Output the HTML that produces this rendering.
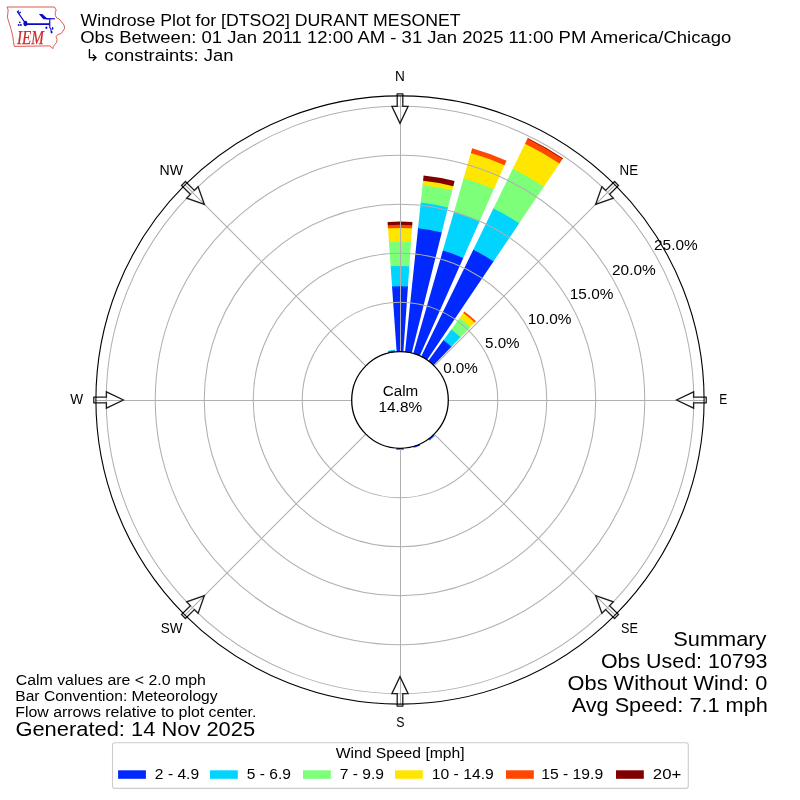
<!DOCTYPE html><html><head><meta charset="utf-8"><title>Windrose Plot</title><style>html,body{margin:0;padding:0;background:#fff;width:800px;height:800px;overflow:hidden}svg{display:block}text{font-family:"Liberation Sans",sans-serif;filter:grayscale(1)}</style></head><body>
<svg width="800" height="800" viewBox="0 0 800 800">
<rect width="800" height="800" fill="#fff"/>
<g id="logo">
<path d="M7,7 L54.4,7 L56.2,10 L55.3,12.4 L55.3,15.4 L56.8,18.1 L59.2,19 L61.6,22 L64,25 L64.6,28 L63.1,31 L61.3,33.4 L58,34.6 L55.9,36.4 L57.1,39.4 L56.5,42.4 L54.7,44.8 L53.2,46.6 L52.9,48.7 L51.1,46.9 L49.6,45.9 L14.3,46.4 L13.5,41.6 L12.7,35.9 L11.1,29.4 L9.1,22.9 L7.4,17.2 L8.2,9.9 Z" fill="none" stroke="#d94848" stroke-width="0.9" stroke-linejoin="round"/>
<g fill="#0a0ac8" stroke="#0a0ac8">
<ellipse cx="25.4" cy="23.5" rx="1.95" ry="2.8" stroke="none"/>
<path d="M26.5,23.3 L48.6,23.3 L49.6,21.4 L49.6,26.4 L48.6,24.9 L26.5,24.9 Z" stroke="none"/>
<path d="M25.0,22.6 L17.9,12.4 L18.6,10.4 M18.6,13.6 L20.8,12.0 M17.9,12.4 L17.2,11.2" stroke-width="1.2" fill="none"/>
<circle cx="19.8" cy="22.3" r="0.85" stroke="none"/><circle cx="18.7" cy="25.0" r="0.95" stroke="none"/><circle cx="20.9" cy="25.0" r="0.95" stroke="none"/>
<path d="M49.8,18.2 L49.8,27.5 L51.0,29.6 L51.4,33.2" stroke-width="1.1" fill="none"/>
<path d="M46.0,18.75 L54.8,18.75" stroke-width="1.2" fill="none"/>
<path d="M38.9,14.0 L42.4,14.0 L46.4,17.8 L49.0,18.4 L49.0,19.3 L43.4,19.3 Z" stroke="none"/>
<ellipse cx="46.4" cy="27.8" rx="1.0" ry="1.2" stroke="none"/>
<ellipse cx="52.6" cy="28.4" rx="0.8" ry="1.3" stroke="none"/>
<ellipse cx="51.7" cy="32.1" rx="0.9" ry="1.2" stroke="none"/>
</g>
<text x="17.0" y="43.6" font-family="Liberation Serif" font-style="italic" font-size="18.2" fill="#d02828" textLength="26.8" lengthAdjust="spacingAndGlyphs" style="font-family:'Liberation Serif',serif;filter:saturate(1.001)" stroke="#d02828" stroke-width="0.25">IEM</text>
</g>
<text x="80.55" y="25.8" font-size="16.67" text-anchor="start" textLength="380.02" lengthAdjust="spacingAndGlyphs" fill="#000">Windrose Plot for [DTSO2] DURANT MESONET</text>
<text x="80.17" y="42.9" font-size="16.67" text-anchor="start" textLength="651.16" lengthAdjust="spacingAndGlyphs" fill="#000">Obs Between: 01 Jan 2011 12:00 AM - 31 Jan 2025 11:00 PM America/Chicago</text>
<path d="M89.45,49.0 L89.45,57.6 L95.6,57.6 M92.8,54.4 L96.0,57.6 L92.8,60.8" fill="none" stroke="#000" stroke-width="1.35"/>
<text x="104.63" y="60.5" font-size="16.67" text-anchor="start" textLength="128.74" lengthAdjust="spacingAndGlyphs" fill="#000">constraints: Jan</text>
<g stroke="none">
<path d="M396.67,352.37 L392.02,285.88 A114.4,114.4 0 0 1 407.98,285.88 L403.33,352.37 A47.75,47.75 0 0 0 396.67,352.37 Z" fill="#0028ff"/>
<path d="M392.07,286.58 L390.6,265.63 A134.7,134.7 0 0 1 409.4,265.63 L407.93,286.58 A113.7,113.7 0 0 0 392.07,286.58 Z" fill="#00d4ff"/>
<path d="M390.65,266.33 L388.91,241.39 A159,159 0 0 1 411.09,241.39 L409.35,266.33 A134,134 0 0 0 390.65,266.33 Z" fill="#7dff7a"/>
<path d="M388.96,242.09 L387.95,227.62 A172.8,172.8 0 0 1 412.05,227.62 L411.04,242.09 A158.3,158.3 0 0 0 388.96,242.09 Z" fill="#ffe600"/>
<path d="M387.99,228.32 L387.73,224.53 A175.9,175.9 0 0 1 412.27,224.53 L412.01,228.32 A172.1,172.1 0 0 0 387.99,228.32 Z" fill="#ff4700"/>
<path d="M387.78,225.23 L387.56,222.03 A178.4,178.4 0 0 1 412.44,222.03 L412.22,225.23 A175.2,175.2 0 0 0 387.78,225.23 Z" fill="#800000"/>
<path d="M404.99,352.51 L418.13,227.55 A173.4,173.4 0 0 1 441.95,231.75 L411.55,353.67 A47.75,47.75 0 0 0 404.99,352.51 Z" fill="#0028ff"/>
<path d="M418.05,228.25 L420.82,201.89 A199.2,199.2 0 0 1 448.19,206.72 L441.78,232.43 A172.7,172.7 0 0 0 418.05,228.25 Z" fill="#00d4ff"/>
<path d="M420.75,202.59 L422.66,184.44 A216.75,216.75 0 0 1 452.44,189.69 L448.02,207.4 A198.5,198.5 0 0 0 420.75,202.59 Z" fill="#7dff7a"/>
<path d="M422.58,185.13 L423.11,180.11 A221.1,221.1 0 0 1 453.49,185.47 L452.27,190.37 A216.05,216.05 0 0 0 422.58,185.13 Z" fill="#ffe600"/>
<path d="M423.04,180.81 L423.59,175.54 A225.7,225.7 0 0 1 454.6,181 L453.32,186.15 A220.4,220.4 0 0 0 423.04,180.81 Z" fill="#800000"/>
<path d="M413.16,354.1 L443.03,249.95 A156.1,156.1 0 0 1 463.49,257.4 L419.42,356.38 A47.75,47.75 0 0 0 413.16,354.1 Z" fill="#0028ff"/>
<path d="M442.83,250.62 L454.11,211.3 A196.3,196.3 0 0 1 479.84,220.67 L463.21,258.04 A155.4,155.4 0 0 0 442.83,250.62 Z" fill="#00d4ff"/>
<path d="M453.91,211.98 L463.78,177.56 A231.4,231.4 0 0 1 494.12,188.61 L479.56,221.31 A195.6,195.6 0 0 0 453.91,211.98 Z" fill="#7dff7a"/>
<path d="M463.59,178.24 L471.03,152.28 A257.7,257.7 0 0 1 504.82,164.58 L493.83,189.25 A230.7,230.7 0 0 0 463.59,178.24 Z" fill="#ffe600"/>
<path d="M470.84,152.96 L472.22,148.15 A262,262 0 0 1 506.57,160.65 L504.53,165.22 A257,257 0 0 0 470.84,152.96 Z" fill="#ff4700"/>
<path d="M420.93,357.08 L473.56,249.18 A167.8,167.8 0 0 1 493.83,260.89 L426.7,360.41 A47.75,47.75 0 0 0 420.93,357.08 Z" fill="#0028ff"/>
<path d="M473.25,249.81 L493.72,207.84 A213.8,213.8 0 0 1 519.56,222.75 L493.44,261.47 A167.1,167.1 0 0 0 473.25,249.81 Z" fill="#00d4ff"/>
<path d="M493.42,208.47 L513.1,168.11 A258,258 0 0 1 544.27,186.11 L519.16,223.33 A213.1,213.1 0 0 0 493.42,208.47 Z" fill="#7dff7a"/>
<path d="M512.79,168.74 L525.33,143.03 A285.9,285.9 0 0 1 559.87,162.98 L543.88,186.69 A257.3,257.3 0 0 0 512.79,168.74 Z" fill="#ffe600"/>
<path d="M525.02,143.66 L527.79,138 A291.5,291.5 0 0 1 563,158.34 L559.48,163.56 A285.2,285.2 0 0 0 525.02,143.66 Z" fill="#ff4700"/>
<path d="M527.48,138.63 L527.7,138.18 A291.3,291.3 0 0 1 562.89,158.5 L562.61,158.92 A290.8,290.8 0 0 0 527.48,138.63 Z" fill="#800000"/>
<path d="M428.07,361.37 L443.91,339.57 A74.7,74.7 0 0 1 451.89,346.27 L433.17,365.65 A47.75,47.75 0 0 0 428.07,361.37 Z" fill="#0028ff"/>
<path d="M443.5,340.13 L451.61,328.97 A87.8,87.8 0 0 1 460.99,336.84 L451.4,346.77 A74,74 0 0 0 443.5,340.13 Z" fill="#00d4ff"/>
<path d="M451.2,329.53 L460.01,317.4 A102.1,102.1 0 0 1 470.92,326.56 L460.5,337.35 A87.1,87.1 0 0 0 451.2,329.53 Z" fill="#7dff7a"/>
<path d="M459.6,317.97 L463.66,312.38 A108.3,108.3 0 0 1 475.23,322.1 L470.44,327.06 A101.4,101.4 0 0 0 459.6,317.97 Z" fill="#ffe600"/>
<path d="M463.25,312.95 L464.36,311.41 A109.5,109.5 0 0 1 476.07,321.23 L474.75,322.6 A107.6,107.6 0 0 0 463.25,312.95 Z" fill="#ff4700"/>
<path d="M388.45,353.67 L387.83,351.19 A50.3,50.3 0 0 1 394.74,349.98 L395.01,352.51 A47.75,47.75 0 0 0 388.45,353.67 Z" fill="#0028ff"/>
<path d="M388,351.87 L387.78,351 A50.5,50.5 0 0 1 394.72,349.78 L394.82,350.67 A49.6,49.6 0 0 0 388,351.87 Z" fill="#00d4ff"/>
<path d="M403.33,447.63 L403.49,449.88 A50,50 0 0 1 396.51,449.88 L396.67,447.63 A47.75,47.75 0 0 0 403.33,447.63 Z" fill="#0028ff"/>
<path d="M403.44,449.18 L403.49,449.88 A50,50 0 0 1 396.51,449.88 L396.56,449.18 A49.3,49.3 0 0 0 403.44,449.18 Z" fill="#00d4ff"/>
<path d="M419.42,443.62 L420.21,445.4 A49.7,49.7 0 0 1 413.7,447.77 L413.16,445.9 A47.75,47.75 0 0 0 419.42,443.62 Z" fill="#0028ff"/>
<path d="M433.17,434.35 L434.73,435.97 A50,50 0 0 1 429.39,440.45 L428.07,438.63 A47.75,47.75 0 0 0 433.17,434.35 Z" fill="#0028ff"/>
<path d="M434.25,435.46 L434.66,435.9 A49.9,49.9 0 0 1 429.33,440.37 L428.98,439.88 A49.3,49.3 0 0 0 434.25,435.46 Z" fill="#00d4ff"/>
</g>
<g fill="none" stroke="#b0b0b0" stroke-width="1.05">
<circle cx="400" cy="400" r="97.75"/>
<circle cx="400" cy="400" r="146.75"/>
<circle cx="400" cy="400" r="195.75"/>
<circle cx="400" cy="400" r="244.75"/>
<circle cx="400" cy="400" r="293.75"/>
</g>
<g fill="none" stroke="#b0b0b0" stroke-width="1.1">
<path d="M434.47,365.53 L615.03,184.97"/>
<path d="M434.47,434.47 L615.03,615.03"/>
<path d="M365.53,434.47 L184.97,615.03"/>
<path d="M365.53,365.53 L184.97,184.97"/>
</g>
<g fill="none" stroke="#b0b0b0" stroke-width="1">
<path d="M400.5,95.9 V351.25 M400.5,448.75 V704.1 M95.9,400.5 H351.25 M448.75,400.5 H704.1"/>
</g>
<g fill="none" stroke="#1c1c1c" stroke-width="1.3" stroke-linejoin="miter">
<path d="M397.2,93.8 L397.2,106.4 L391.9,106.4 L400,123.4 L408.1,106.4 L402.8,106.4 L402.8,93.8 Z"/>
<path d="M614.54,181.5 L605.63,190.41 L601.88,186.67 L595.59,204.41 L613.33,198.12 L609.59,194.37 L618.5,185.46 Z"/>
<path d="M706.2,397.2 L693.6,397.2 L693.6,391.9 L676.6,400 L693.6,408.1 L693.6,402.8 L706.2,402.8 Z"/>
<path d="M618.5,614.54 L609.59,605.63 L613.33,601.88 L595.59,595.59 L601.88,613.33 L605.63,609.59 L614.54,618.5 Z"/>
<path d="M402.8,706.2 L402.8,693.6 L408.1,693.6 L400,676.6 L391.9,693.6 L397.2,693.6 L397.2,706.2 Z"/>
<path d="M185.46,618.5 L194.37,609.59 L198.12,613.33 L204.41,595.59 L186.67,601.88 L190.41,605.63 L181.5,614.54 Z"/>
<path d="M93.8,402.8 L106.4,402.8 L106.4,408.1 L123.4,400 L106.4,391.9 L106.4,397.2 L93.8,397.2 Z"/>
<path d="M181.5,185.46 L190.41,194.37 L186.67,198.12 L204.41,204.41 L198.12,186.67 L194.37,190.41 L185.46,181.5 Z"/>
</g>
<circle cx="400" cy="400" r="304.1" fill="none" stroke="#000" stroke-width="1.1"/>
<circle cx="400" cy="400" r="48.3" fill="#fff" stroke="#000" stroke-width="1.3"/>
<text x="382.71" y="395.9" font-size="13.89" text-anchor="start" textLength="35.49" lengthAdjust="spacingAndGlyphs" fill="#000">Calm</text>
<text x="378.54" y="412" font-size="13.89" text-anchor="start" textLength="43.57" lengthAdjust="spacingAndGlyphs" fill="#000">14.8%</text>
<text x="395.07" y="81" font-size="13.89" text-anchor="start" textLength="9.85" lengthAdjust="spacingAndGlyphs" fill="#000">N</text>
<text x="619.62" y="175" font-size="13.89" text-anchor="start" textLength="18.54" lengthAdjust="spacingAndGlyphs" fill="#000">NE</text>
<text x="719.23" y="403.6" font-size="13.89" text-anchor="start" textLength="7.99" lengthAdjust="spacingAndGlyphs" fill="#000">E</text>
<text x="620.95" y="632.9" font-size="13.89" text-anchor="start" textLength="16.89" lengthAdjust="spacingAndGlyphs" fill="#000">SE</text>
<text x="396.24" y="726.75" font-size="13.89" text-anchor="start" textLength="8.23" lengthAdjust="spacingAndGlyphs" fill="#000">S</text>
<text x="160.72" y="632.75" font-size="13.89" text-anchor="start" textLength="21.82" lengthAdjust="spacingAndGlyphs" fill="#000">SW</text>
<text x="70.13" y="403.75" font-size="13.89" text-anchor="start" textLength="12.92" lengthAdjust="spacingAndGlyphs" fill="#000">W</text>
<text x="159.51" y="174.75" font-size="13.89" text-anchor="start" textLength="23.47" lengthAdjust="spacingAndGlyphs" fill="#000">NW</text>
<text x="443.15" y="372.8" font-size="13.89" text-anchor="start" textLength="34.73" lengthAdjust="spacingAndGlyphs" fill="#000">0.0%</text>
<text x="485" y="347.8" font-size="13.89" text-anchor="start" textLength="34.63" lengthAdjust="spacingAndGlyphs" fill="#000">5.0%</text>
<text x="527.84" y="324" font-size="13.89" text-anchor="start" textLength="43.57" lengthAdjust="spacingAndGlyphs" fill="#000">10.0%</text>
<text x="569.84" y="299" font-size="13.89" text-anchor="start" textLength="43.57" lengthAdjust="spacingAndGlyphs" fill="#000">15.0%</text>
<text x="612.03" y="274.8" font-size="13.89" text-anchor="start" textLength="43.63" lengthAdjust="spacingAndGlyphs" fill="#000">20.0%</text>
<text x="654.03" y="250" font-size="13.89" text-anchor="start" textLength="43.63" lengthAdjust="spacingAndGlyphs" fill="#000">25.0%</text>
<text x="15.7" y="684.7" font-size="13.89" text-anchor="start" textLength="190.22" lengthAdjust="spacingAndGlyphs" fill="#000">Calm values are &lt; 2.0 mph</text>
<text x="15.26" y="700.5" font-size="13.89" text-anchor="start" textLength="202.36" lengthAdjust="spacingAndGlyphs" fill="#000">Bar Convention: Meteorology</text>
<text x="15.24" y="717.2" font-size="13.89" text-anchor="start" textLength="241.09" lengthAdjust="spacingAndGlyphs" fill="#000">Flow arrows relative to plot center.</text>
<text x="15.43" y="736.2" font-size="19.44" text-anchor="start" textLength="239.69" lengthAdjust="spacingAndGlyphs" fill="#000">Generated: 14 Nov 2025</text>
<text x="673.25" y="645.6" font-size="19.44" text-anchor="start" textLength="93.17" lengthAdjust="spacingAndGlyphs" fill="#000">Summary</text>
<text x="600.91" y="667.6" font-size="19.44" text-anchor="start" textLength="166.6" lengthAdjust="spacingAndGlyphs" fill="#000">Obs Used: 10793</text>
<text x="567.64" y="689.9" font-size="19.44" text-anchor="start" textLength="199.65" lengthAdjust="spacingAndGlyphs" fill="#000">Obs Without Wind: 0</text>
<text x="571.65" y="712" font-size="19.44" text-anchor="start" textLength="196.18" lengthAdjust="spacingAndGlyphs" fill="#000">Avg Speed: 7.1 mph</text>
<rect x="112.5" y="742.8" width="575.8" height="45.6" rx="2.5" ry="2.5" fill="#fff" fill-opacity="0.8" stroke="#cccccc" stroke-width="1.1"/>
<text x="335.69" y="757.5" font-size="13.89" text-anchor="start" textLength="128.88" lengthAdjust="spacingAndGlyphs" fill="#000">Wind Speed [mph]</text>
<rect x="118.1" y="770.3" width="27.8" height="8.5" fill="#0028ff"/>
<text x="154.87" y="778.8" font-size="13.89" text-anchor="start" textLength="44.26" lengthAdjust="spacingAndGlyphs" fill="#000">2 - 4.9</text>
<rect x="210" y="770.3" width="27.8" height="8.5" fill="#00d4ff"/>
<text x="246.88" y="778.8" font-size="13.89" text-anchor="start" textLength="44.09" lengthAdjust="spacingAndGlyphs" fill="#000">5 - 6.9</text>
<rect x="303" y="770.3" width="27.8" height="8.5" fill="#7dff7a"/>
<text x="339.71" y="778.8" font-size="13.89" text-anchor="start" textLength="44.21" lengthAdjust="spacingAndGlyphs" fill="#000">7 - 9.9</text>
<rect x="395" y="770.3" width="27.8" height="8.5" fill="#ffe600"/>
<text x="431.81" y="778.8" font-size="13.89" text-anchor="start" textLength="61.93" lengthAdjust="spacingAndGlyphs" fill="#000">10 - 14.9</text>
<rect x="506" y="770.3" width="27.8" height="8.5" fill="#ff4700"/>
<text x="541.21" y="778.8" font-size="13.89" text-anchor="start" textLength="61.93" lengthAdjust="spacingAndGlyphs" fill="#000">15 - 19.9</text>
<rect x="616" y="770.3" width="27.8" height="8.5" fill="#800000"/>
<text x="652.81" y="778.8" font-size="13.89" text-anchor="start" textLength="28.51" lengthAdjust="spacingAndGlyphs" fill="#000">20+</text>
</svg></body></html>
